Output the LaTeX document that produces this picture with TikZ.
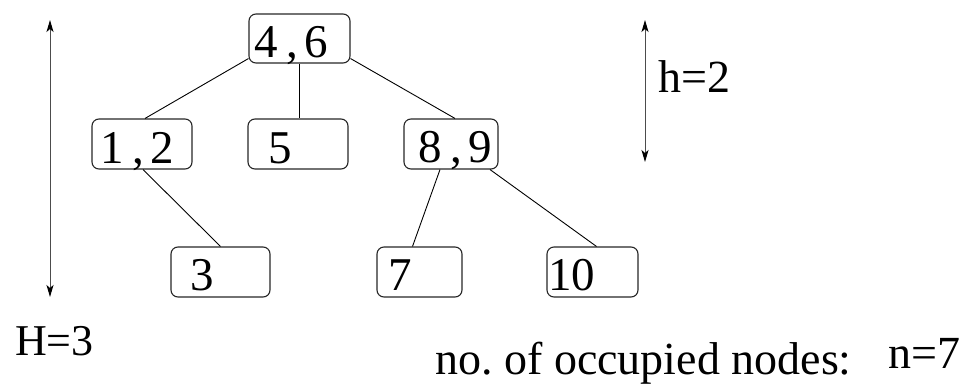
\documentclass[tikz,border=0pt]{standalone}
\usepackage{fontspec}
\setmainfont{Liberation Serif}
\usetikzlibrary{arrows.meta}
\begin{document}
\begin{tikzpicture}[x=1pt,y=-1pt,
  keybox/.style={draw=black!85, line width=1.1pt, rounded corners=7pt, inner sep=0pt},
  keytxt/.style={anchor=base west, inner sep=0pt, font=\fontsize{47}{52}\selectfont},
  lbl/.style={anchor=base west, inner sep=0pt},
  edge/.style={line width=0.9pt, black},
  dim/.style={line width=1pt, black!70, {Stealth[length=12pt,width=7pt,inset=3pt,black]}-{Stealth[length=12pt,width=7pt,inset=3pt,black]}}
]
\useasboundingbox (0,0) rectangle (963,383);
% boxes: corners given in pixels
\newcommand{\kbox}[5]{\node[keybox, minimum width={#4-#2}, minimum height={#5-#3}] (#1) at ({(#2+#4)/2},{(#3+#5)/2}) {};}
\kbox{n46}{249}{14}{350}{63}
\kbox{n12}{92}{119}{192}{169}
\kbox{n5}{248}{119}{348}{169}
\kbox{n89}{404}{119}{498}{169}
\kbox{n3}{171}{247}{270}{297}
\kbox{n7}{377}{247}{462}{297}
\kbox{n10}{547}{247}{638}{297}
% texts
\node[keytxt] (t46) at (254,57) {4\hspace{9pt},\hspace{6pt}6};
\node[keytxt] (t12) at (100,163) {1\hspace{9pt},\hspace{6pt}2};
\node[keytxt] (t5) at (268,163) {5};
\node[keytxt] (t89) at (418,162) {8\hspace{9pt},\hspace{6pt}9};
\node[keytxt] (t3) at (190,290) {3};
\node[keytxt] (t7) at (388,290) {7};
\node[keytxt] (t10) at (548,290) {10};
% edges
\draw[edge] ([yshift=5pt]n46.south west) -- ([xshift=3pt]n12.north);
\draw[edge] (n46.south) -- (n46.south |- n5.north);
\draw[edge] ([yshift=5pt]n46.south east) -- ([xshift=4pt]n89.north);
\draw[edge] ([xshift=1pt]n12.south) -- (n3.north);
\draw[edge] ([xshift=-11pt]n89.south) -- ([xshift=-7pt]n7.north);
\draw[edge] ([xshift=39pt]n89.south) -- ([xshift=4pt]n10.north);
% dimension arrows
\coordinate (Htop) at (50,20);
\coordinate (Hbot) at (50,297);
\draw[dim] (Htop) -- (Hbot);
\coordinate (htop) at (645,20);
\coordinate (hbot) at (645,162);
\draw[dim] (htop) -- (hbot);
\node[lbl, font=\fontsize{44}{48}\selectfont] (Hlab) at (15,355) {H=3};
\node[lbl, font=\fontsize{46}{50}\selectfont] (hlab) at (658,92) {h=2};
\node[lbl, font=\fontsize{46}{50}\selectfont] (nlab) at (435,374) {no.\ of occupied nodes:};
\node[lbl, font=\fontsize{46}{50}\selectfont] (nval) at (888,368) {n=7};
\end{tikzpicture}
\end{document}
